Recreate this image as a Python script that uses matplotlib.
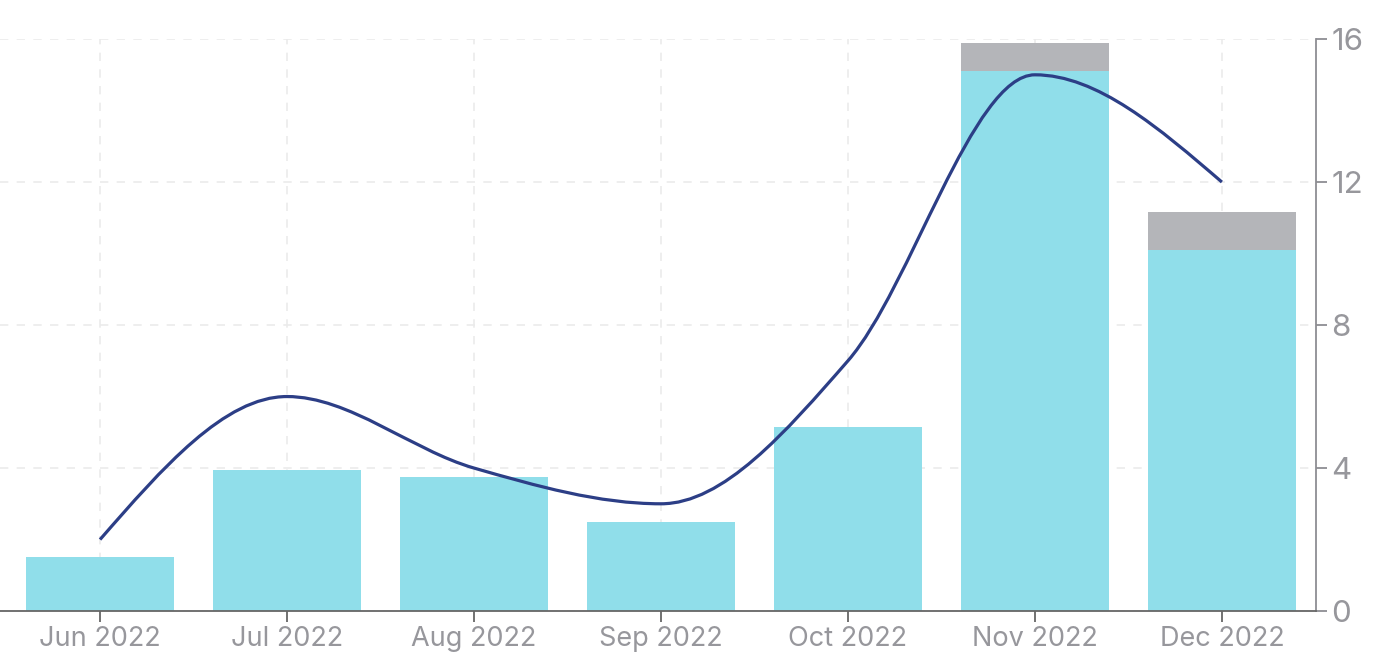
import matplotlib
matplotlib.use("Agg")
import matplotlib.pyplot as plt
from matplotlib.path import Path
from matplotlib.patches import PathPatch
import numpy as np

months = ["Jun 2022", "Jul 2022", "Aug 2022", "Sep 2022", "Oct 2022", "Nov 2022", "Dec 2022"]
bar_main = [1.5, 3.95, 3.75, 2.5, 5.15, 15.1, 10.1]
bar_extra = [0, 0, 0, 0, 0, 0.8, 1.05]
line_vals = [2, 6, 4, 3, 7, 15, 12]
y_ticks = [0, 4, 8, 12, 16]

C_BAR = "#90deea"
C_EXTRA = "#b4b5b9"
C_LINE = "#2c3e86"
C_TEXT = "#97979c"
C_GRID = "#ebebeb"

plt.rcParams['font.family'] = ['Inter', 'DejaVu Sans']

fig = plt.figure(figsize=(13.98, 6.70), dpi=100)
ax = fig.add_axes([0.0, 0.088, 0.9413, 0.8537])

x = np.arange(len(months))
ax.bar(x, bar_main, width=0.79, color=C_BAR, zorder=2)
ax.bar(x, bar_extra, width=0.79, bottom=bar_main, color=C_EXTRA, zorder=2)


def monotone_path(xs, ys):
    xs = np.asarray(xs, float)
    ys = np.asarray(ys, float)
    n = len(xs)
    t = np.zeros(n)
    for i in range(1, n - 1):
        h0 = xs[i] - xs[i - 1]
        h1 = xs[i + 1] - xs[i]
        s0 = (ys[i] - ys[i - 1]) / h0
        s1 = (ys[i + 1] - ys[i]) / h1
        p = (s0 * h1 + s1 * h0) / (h0 + h1)
        t[i] = (np.sign(s0) + np.sign(s1)) * min(abs(s0), abs(s1), 0.5 * abs(p))
    h = xs[1] - xs[0]
    t[0] = (3 * (ys[1] - ys[0]) / h - t[1]) / 2
    h = xs[-1] - xs[-2]
    t[-1] = (3 * (ys[-1] - ys[-2]) / h - t[-2]) / 2
    verts = [(xs[0], ys[0])]
    codes = [Path.MOVETO]
    for i in range(n - 1):
        dx = (xs[i + 1] - xs[i]) / 3
        verts += [(xs[i] + dx, ys[i] + dx * t[i]),
                  (xs[i + 1] - dx, ys[i + 1] - dx * t[i + 1]),
                  (xs[i + 1], ys[i + 1])]
        codes += [Path.CURVE4] * 3
    return Path(verts, codes)


ax.add_patch(PathPatch(monotone_path(x, line_vals), facecolor="none",
                       edgecolor=C_LINE, lw=2.3, zorder=3, capstyle="butt"))

ax.set_xlim(-0.535, 6.503)
ax.set_ylim(0, 16)
ax.set_xticks(x)
ax.set_xticklabels(months)
ax.set_yticks(y_ticks)

ax.yaxis.tick_right()
ax.grid(True, color=C_GRID, lw=1.2, linestyle=(0, (5, 5)), zorder=0)
ax.set_axisbelow(True)

for s in ["top", "left"]:
    ax.spines[s].set_visible(False)
ax.spines["right"].set_color("#8e8e93")
ax.spines["right"].set_linewidth(1.3)
ax.spines["bottom"].set_color("#666666")
ax.spines["bottom"].set_linewidth(1.3)
ax.spines["bottom"].set_zorder(4)

ax.tick_params(axis="x", length=8, width=1.3, color="#666666", labelcolor=C_TEXT,
               labelsize=19.5, pad=3)
ax.tick_params(axis="y", length=8, width=1.3, color="#8e8e93", labelcolor=C_TEXT,
               labelsize=22.5, pad=3)

fig.savefig("out.png", dpi=100)
